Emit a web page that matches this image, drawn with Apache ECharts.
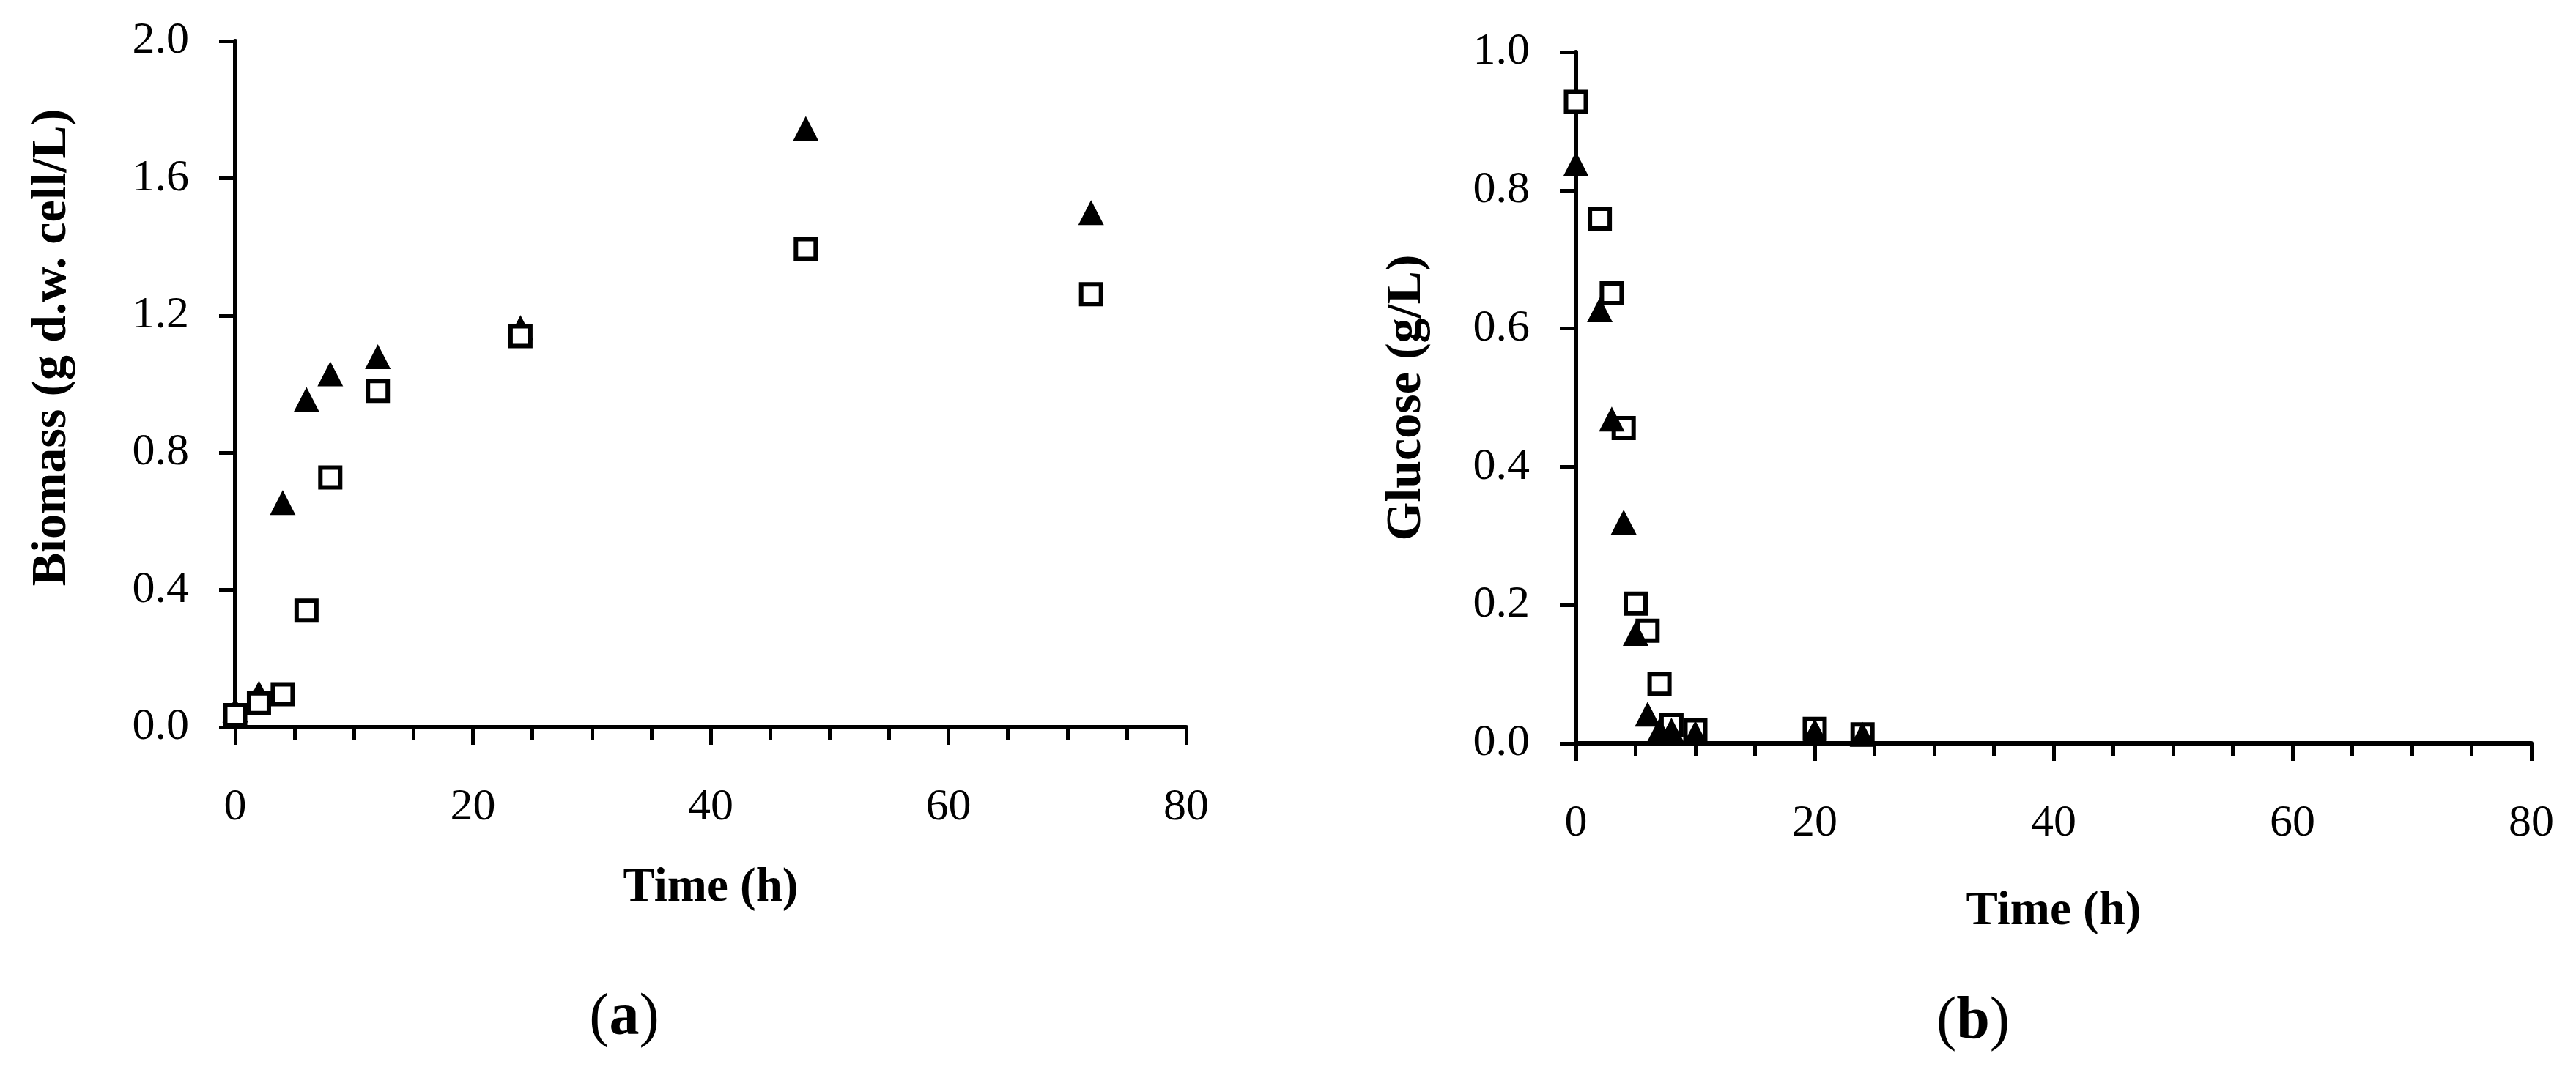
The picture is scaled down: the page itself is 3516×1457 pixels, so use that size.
<!DOCTYPE html>
<html>
<head>
<meta charset="utf-8">
<script src="https://cdn.jsdelivr.net/npm/echarts@6/dist/echarts.min.js"></script>
<style>
    body { margin: 0; background: #fff; }
    #chart { width: 3516px; height: 1457px; }
</style>
</head>
<body>
<div id="chart"></div>
<script>
    // (a) biomass
    let biomassTime = [0, 2, 4, 6, 8, 12, 24, 48, 72];
    let biomassTriangle = [0.05, 0.10, 0.655, 0.955, 1.03, 1.08, 1.165, 1.745, 1.50];
    let biomassSquare = [0.035, 0.07, 0.096, 0.34, 0.728, 0.98, 1.14, 1.394, 1.262];
    let biomassTicks = [0, 0.4, 0.8, 1.2, 1.6, 2.0];

    // (b) glucose
    let glucoseTime = [0, 2, 3, 4, 5, 6, 7, 8, 10, 20, 24];
    let glucoseSquare = [0.928, 0.759, 0.651, 0.456, 0.202, 0.163, 0.086, 0.027, 0.019, 0.021, 0.013];
    let glucoseTriangle = [0.838, 0.627, 0.469, 0.32, 0.159, 0.042, 0.019, 0.019, 0.015, 0.018, 0.013];
    let glucoseTicks = [0, 0.2, 0.4, 0.6, 0.8, 1.0];

    let timeTicks = [0, 20, 40, 60, 80];

    let serif = '"Liberation Serif", "Times New Roman", serif';

    function pairs(xs, ys) {
        return xs.map((x, i) => [x, ys[i]]);
    }

    function xAxisFor(gridIndex, nameGap) {
        return {
            type: 'value',
            gridIndex: gridIndex,
            min: timeTicks[0],
            max: timeTicks[timeTicks.length - 1],
            interval: timeTicks[1] - timeTicks[0],
            name: 'Time (h)',
            nameLocation: 'middle',
            nameGap: nameGap,
            nameTextStyle: {fontFamily: serif, fontWeight: 'bold', fontSize: 65, color: '#000'},
            axisLine: {show: true, onZero: false, lineStyle: {color: '#000', width: 6}},
            axisTick: {show: true, length: 24, lineStyle: {color: '#000', width: 5}},
            minorTick: {show: true, splitNumber: 4, length: 17, lineStyle: {color: '#000', width: 5}},
            splitLine: {show: false},
            axisLabel: {margin: 79, fontFamily: serif, fontSize: 62, color: '#000'}
        };
    }

    function yAxisFor(gridIndex, ticks, name, nameGap, padding) {
        return {
            type: 'value',
            gridIndex: gridIndex,
            min: ticks[0],
            max: ticks[ticks.length - 1],
            interval: ticks[1] - ticks[0],
            name: name,
            nameLocation: 'middle',
            nameGap: nameGap,
            nameTextStyle: {fontFamily: serif, fontWeight: 'bold', fontSize: 68, color: '#000', padding: padding},
            axisLine: {show: true, lineStyle: {color: '#000', width: 6}},
            axisTick: {show: true, length: 22, lineStyle: {color: '#000', width: 5}},
            splitLine: {show: false},
            axisLabel: {
                margin: 63, fontFamily: serif, fontSize: 62, color: '#000',
                formatter: v => v.toFixed(1)
            }
        };
    }

    let squareStyle = {
        type: 'scatter',
        symbol: 'rect',
        symbolSize: 27,
        itemStyle: {color: '#fff', borderColor: '#000', borderWidth: 6, opacity: 1}
    };
    let triangleStyle = {
        type: 'scatter',
        symbol: 'triangle',
        symbolSize: [35, 34],
        itemStyle: {color: '#000', opacity: 1}
    };

    // caption "(a)" / "(b)": plain parens, bold letter
    let captionRich = {
        p: {fontFamily: serif, fontSize: 82, fontWeight: 'normal', color: '#000', lineHeight: 92},
        b: {fontFamily: serif, fontSize: 82, fontWeight: 'bold', color: '#000', lineHeight: 92}
    };

    let myChart = echarts.init(document.getElementById('chart'), null, {renderer: 'canvas'});
    let option = {
        backgroundColor: '#fff',
        animation: false,
        title: [{
            text: '{p|(}{b|a}{p|)}',
            left: 847, top: 1340, textAlign: 'center',
            textStyle: {fontWeight: 'normal', rich: captionRich}
        }, {
            text: '{p|(}{b|b}{p|)}',
            left: 2688, top: 1345, textAlign: 'center',
            textStyle: {fontWeight: 'normal', rich: captionRich}
        }],
        grid: [
            {left: 321, top: 56, width: 1298, height: 937},
            {left: 2151, top: 71, width: 1304, height: 944}
        ],
        xAxis: [xAxisFor(0, 188), xAxisFor(1, 198)],
        yAxis: [
            yAxisFor(0, biomassTicks, 'Biomass (g d.w. cell/L)', 216, [0, 0, 0, 100]),
            yAxisFor(1, glucoseTicks, 'Glucose (g/L)', 197, 0)
        ],
        series: [
            Object.assign({xAxisIndex: 0, yAxisIndex: 0, data: pairs(biomassTime, biomassTriangle)}, triangleStyle),
            Object.assign({xAxisIndex: 0, yAxisIndex: 0, data: pairs(biomassTime, biomassSquare)}, squareStyle),
            Object.assign({xAxisIndex: 1, yAxisIndex: 1, data: pairs(glucoseTime, glucoseSquare)}, squareStyle),
            Object.assign({xAxisIndex: 1, yAxisIndex: 1, data: pairs(glucoseTime, glucoseTriangle)}, triangleStyle)
        ]
    };
    myChart.setOption(option);
</script>
</body>
</html>
